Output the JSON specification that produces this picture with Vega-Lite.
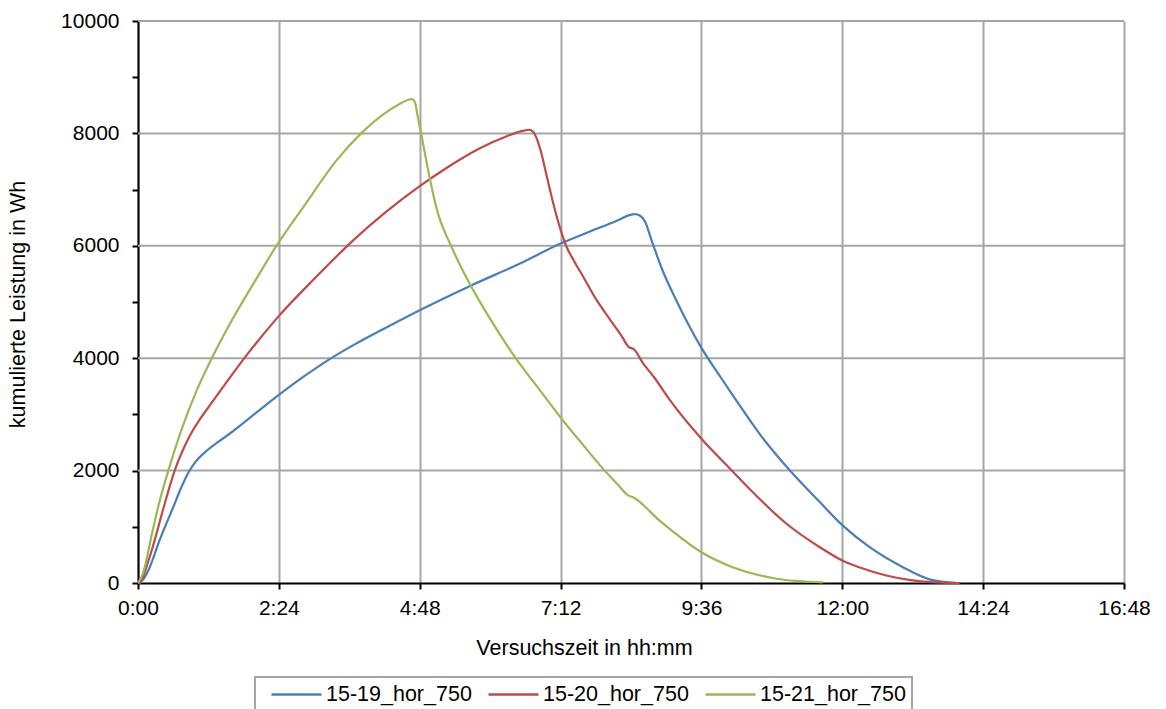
{
  "$schema": "https://vega.github.io/schema/vega-lite/v6.json",
  "width": 986,
  "height": 562,
  "autosize": "none",
  "padding": {"left": 138, "top": 21, "right": 42, "bottom": 126},
  "background": "white",
  "config": {
    "view": {"stroke": null},
    "font": "Liberation Sans",
    "axis": {"labelFont": "Liberation Sans", "titleFont": "Liberation Sans", "labelColor": "#000", "titleColor": "#000", "titleFontWeight": "normal"},
    "legend": {"strokeWidth": 2}
  },
  "datasets": {
    "grid": [
      {"g": 2000}, {"g": 4000}, {"g": 6000}, {"g": 8000}, {"g": 10000}
    ],
    "series": [
      {"s": "15-19_hor_750", "t": 0, "v": 0},
      {"s": "15-19_hor_750", "t": 2, "v": 10},
      {"s": "15-19_hor_750", "t": 6, "v": 80},
      {"s": "15-19_hor_750", "t": 12, "v": 281},
      {"s": "15-19_hor_750", "t": 22, "v": 757},
      {"s": "15-19_hor_750", "t": 36, "v": 1350},
      {"s": "15-19_hor_750", "t": 44, "v": 1690},
      {"s": "15-19_hor_750", "t": 51, "v": 1950},
      {"s": "15-19_hor_750", "t": 56, "v": 2090},
      {"s": "15-19_hor_750", "t": 62, "v": 2220},
      {"s": "15-19_hor_750", "t": 70, "v": 2350},
      {"s": "15-19_hor_750", "t": 82, "v": 2510},
      {"s": "15-19_hor_750", "t": 94, "v": 2660},
      {"s": "15-19_hor_750", "t": 118, "v": 2990},
      {"s": "15-19_hor_750", "t": 145, "v": 3360},
      {"s": "15-19_hor_750", "t": 170, "v": 3680},
      {"s": "15-19_hor_750", "t": 196, "v": 3984},
      {"s": "15-19_hor_750", "t": 222, "v": 4250},
      {"s": "15-19_hor_750", "t": 250, "v": 4510},
      {"s": "15-19_hor_750", "t": 290, "v": 4870},
      {"s": "15-19_hor_750", "t": 340, "v": 5290},
      {"s": "15-19_hor_750", "t": 390, "v": 5680},
      {"s": "15-19_hor_750", "t": 432, "v": 6040},
      {"s": "15-19_hor_750", "t": 462, "v": 6254},
      {"s": "15-19_hor_750", "t": 490, "v": 6450},
      {"s": "15-19_hor_750", "t": 502, "v": 6545},
      {"s": "15-19_hor_750", "t": 508, "v": 6565},
      {"s": "15-19_hor_750", "t": 513, "v": 6540},
      {"s": "15-19_hor_750", "t": 518, "v": 6440},
      {"s": "15-19_hor_750", "t": 526, "v": 6048},
      {"s": "15-19_hor_750", "t": 536, "v": 5574},
      {"s": "15-19_hor_750", "t": 550, "v": 5041},
      {"s": "15-19_hor_750", "t": 563, "v": 4590},
      {"s": "15-19_hor_750", "t": 576, "v": 4184},
      {"s": "15-19_hor_750", "t": 596, "v": 3652},
      {"s": "15-19_hor_750", "t": 610, "v": 3290},
      {"s": "15-19_hor_750", "t": 636, "v": 2640},
      {"s": "15-19_hor_750", "t": 666, "v": 2010},
      {"s": "15-19_hor_750", "t": 697, "v": 1440},
      {"s": "15-19_hor_750", "t": 720, "v": 1030},
      {"s": "15-19_hor_750", "t": 748, "v": 637},
      {"s": "15-19_hor_750", "t": 782, "v": 281},
      {"s": "15-19_hor_750", "t": 810, "v": 60},
      {"s": "15-19_hor_750", "t": 837, "v": 0},

      {"s": "15-20_hor_750", "t": 0, "v": 0},
      {"s": "15-20_hor_750", "t": 2, "v": 15},
      {"s": "15-20_hor_750", "t": 5, "v": 103},
      {"s": "15-20_hor_750", "t": 10, "v": 360},
      {"s": "15-20_hor_750", "t": 15, "v": 637},
      {"s": "15-20_hor_750", "t": 26, "v": 1330},
      {"s": "15-20_hor_750", "t": 37.5, "v": 2000},
      {"s": "15-20_hor_750", "t": 45, "v": 2330},
      {"s": "15-20_hor_750", "t": 53, "v": 2620},
      {"s": "15-20_hor_750", "t": 62, "v": 2880},
      {"s": "15-20_hor_750", "t": 73, "v": 3150},
      {"s": "15-20_hor_750", "t": 90, "v": 3560},
      {"s": "15-20_hor_750", "t": 107, "v": 3960},
      {"s": "15-20_hor_750", "t": 143, "v": 4731},
      {"s": "15-20_hor_750", "t": 182, "v": 5443},
      {"s": "15-20_hor_750", "t": 220, "v": 6097},
      {"s": "15-20_hor_750", "t": 252, "v": 6580},
      {"s": "15-20_hor_750", "t": 288, "v": 7060},
      {"s": "15-20_hor_750", "t": 315, "v": 7380},
      {"s": "15-20_hor_750", "t": 350, "v": 7740},
      {"s": "15-20_hor_750", "t": 377, "v": 7950},
      {"s": "15-20_hor_750", "t": 392, "v": 8040},
      {"s": "15-20_hor_750", "t": 400, "v": 8065},
      {"s": "15-20_hor_750", "t": 404, "v": 8030},
      {"s": "15-20_hor_750", "t": 411, "v": 7734},
      {"s": "15-20_hor_750", "t": 418, "v": 7230},
      {"s": "15-20_hor_750", "t": 424.5, "v": 6758},
      {"s": "15-20_hor_750", "t": 431, "v": 6343},
      {"s": "15-20_hor_750", "t": 438, "v": 5988},
      {"s": "15-20_hor_750", "t": 445, "v": 5752},
      {"s": "15-20_hor_750", "t": 455, "v": 5455},
      {"s": "15-20_hor_750", "t": 468.6, "v": 5041},
      {"s": "15-20_hor_750", "t": 482, "v": 4700},
      {"s": "15-20_hor_750", "t": 495, "v": 4380},
      {"s": "15-20_hor_750", "t": 501, "v": 4210},
      {"s": "15-20_hor_750", "t": 507.5, "v": 4150},
      {"s": "15-20_hor_750", "t": 516, "v": 3918},
      {"s": "15-20_hor_750", "t": 528, "v": 3652},
      {"s": "15-20_hor_750", "t": 544, "v": 3249},
      {"s": "15-20_hor_750", "t": 576, "v": 2567},
      {"s": "15-20_hor_750", "t": 607, "v": 2003},
      {"s": "15-20_hor_750", "t": 626, "v": 1660},
      {"s": "15-20_hor_750", "t": 663, "v": 1054},
      {"s": "15-20_hor_750", "t": 697, "v": 637},
      {"s": "15-20_hor_750", "t": 720, "v": 400},
      {"s": "15-20_hor_750", "t": 738, "v": 275},
      {"s": "15-20_hor_750", "t": 765, "v": 133},
      {"s": "15-20_hor_750", "t": 790, "v": 50},
      {"s": "15-20_hor_750", "t": 810, "v": 14},
      {"s": "15-20_hor_750", "t": 840, "v": 0},

      {"s": "15-21_hor_750", "t": 0, "v": 0},
      {"s": "15-21_hor_750", "t": 5, "v": 164},
      {"s": "15-21_hor_750", "t": 15, "v": 935},
      {"s": "15-21_hor_750", "t": 22, "v": 1450},
      {"s": "15-21_hor_750", "t": 31, "v": 2000},
      {"s": "15-21_hor_750", "t": 43, "v": 2656},
      {"s": "15-21_hor_750", "t": 60, "v": 3427},
      {"s": "15-21_hor_750", "t": 75, "v": 3984},
      {"s": "15-21_hor_750", "t": 94, "v": 4614},
      {"s": "15-21_hor_750", "t": 118, "v": 5326},
      {"s": "15-21_hor_750", "t": 143, "v": 6038},
      {"s": "15-21_hor_750", "t": 169, "v": 6690},
      {"s": "15-21_hor_750", "t": 203, "v": 7520},
      {"s": "15-21_hor_750", "t": 228, "v": 8000},
      {"s": "15-21_hor_750", "t": 254, "v": 8380},
      {"s": "15-21_hor_750", "t": 266, "v": 8510},
      {"s": "15-21_hor_750", "t": 276, "v": 8595},
      {"s": "15-21_hor_750", "t": 280, "v": 8610},
      {"s": "15-21_hor_750", "t": 283, "v": 8560},
      {"s": "15-21_hor_750", "t": 286, "v": 8300},
      {"s": "15-21_hor_750", "t": 290, "v": 7950},
      {"s": "15-21_hor_750", "t": 296, "v": 7400},
      {"s": "15-21_hor_750", "t": 302, "v": 6900},
      {"s": "15-21_hor_750", "t": 308, "v": 6500},
      {"s": "15-21_hor_750", "t": 314, "v": 6230},
      {"s": "15-21_hor_750", "t": 320, "v": 6000},
      {"s": "15-21_hor_750", "t": 328, "v": 5700},
      {"s": "15-21_hor_750", "t": 339, "v": 5330},
      {"s": "15-21_hor_750", "t": 363, "v": 4614},
      {"s": "15-21_hor_750", "t": 387, "v": 3978},
      {"s": "15-21_hor_750", "t": 411, "v": 3427},
      {"s": "15-21_hor_750", "t": 433, "v": 2923},
      {"s": "15-21_hor_750", "t": 453, "v": 2500},
      {"s": "15-21_hor_750", "t": 473, "v": 2080},
      {"s": "15-21_hor_750", "t": 490, "v": 1760},
      {"s": "15-21_hor_750", "t": 501, "v": 1560},
      {"s": "15-21_hor_750", "t": 506, "v": 1527},
      {"s": "15-21_hor_750", "t": 533, "v": 1113},
      {"s": "15-21_hor_750", "t": 576, "v": 548},
      {"s": "15-21_hor_750", "t": 608, "v": 281},
      {"s": "15-21_hor_750", "t": 653, "v": 75},
      {"s": "15-21_hor_750", "t": 700, "v": 10}
    ]
  },
  "layer": [
    {
      "data": {"name": "grid"},
      "mark": {"type": "rule", "color": "#a6a6a6", "strokeWidth": 2},
      "encoding": {
        "y": {
          "field": "g",
          "type": "quantitative",
          "scale": {"domain": [0, 10000], "nice": false},
          "axis": {
            "values": [0, 1000, 2000, 3000, 4000, 5000, 6000, 7000, 8000, 9000, 10000],
            "labelExpr": "datum.value % 2000 == 0 ? datum.label : ''",
            "format": "d",
            "labelFontSize": 21,
            "labelPadding": 13,
            "labelOverlap": false,
            "tickSize": 6,
            "tickWidth": 2,
            "tickColor": "#000",
            "domainColor": "#000",
            "domainWidth": 2,
            "grid": false,
            "title": "kumulierte Leistung in Wh",
            "titleFontSize": 21.5,
            "titleAngle": -90,
            "titleX": -120,
            "titleY": 283,
            "titleAlign": "center",
            "titleBaseline": "middle"
          }
        }
      }
    },
    {
      "data": {"name": "series"},
      "mark": {"type": "line", "strokeWidth": 2.2, "interpolate": "monotone"},
      "encoding": {
        "x": {
          "field": "t",
          "type": "quantitative",
          "scale": {"domain": [0, 1008], "nice": false, "zero": false},
          "axis": {
            "values": [0, 144, 288, 432, 576, 720, 864, 1008],
            "labelExpr": "floor(datum.value/60) + ':' + (datum.value % 60 < 10 ? '0' : '') + (datum.value % 60)",
            "labelFontSize": 21,
            "labelPadding": 8,
            "labelOverlap": false,
            "labelFlush": false,
            "tickSize": 6,
            "tickWidth": 2,
            "tickColor": "#000",
            "domainColor": "#000",
            "domainWidth": 2,
            "grid": true,
            "gridColor": "#a6a6a6",
            "gridWidth": 2,
            "title": "Versuchszeit in hh:mm",
            "titleFontSize": 21.5,
            "titleX": 446,
            "titleY": 65,
            "titleAlign": "center",
            "titleBaseline": "middle"
          }
        },
        "y": {
          "field": "v",
          "type": "quantitative",
          "scale": {"domain": [0, 10000], "nice": false},
          "axis": {
            "values": [0, 1000, 2000, 3000, 4000, 5000, 6000, 7000, 8000, 9000, 10000],
            "labelExpr": "datum.value % 2000 == 0 ? datum.label : ''",
            "format": "d",
            "labelFontSize": 21,
            "labelPadding": 13,
            "labelOverlap": false,
            "tickSize": 6,
            "tickWidth": 2,
            "tickColor": "#000",
            "domainColor": "#000",
            "domainWidth": 2,
            "grid": false,
            "title": "kumulierte Leistung in Wh",
            "titleFontSize": 21.5,
            "titleAngle": -90,
            "titleX": -120,
            "titleY": 283,
            "titleAlign": "center",
            "titleBaseline": "middle"
          }
        },
        "color": {
          "field": "s",
          "type": "nominal",
          "scale": {"domain": ["15-19_hor_750", "15-20_hor_750", "15-21_hor_750"], "range": ["#4a7ebb", "#be4b48", "#98b954"]},
          "legend": {
            "title": null,
            "orient": "none",
            "direction": "horizontal",
            "legendX": 117,
            "legendY": 656,
            "padding": 6,
            "strokeColor": "#a6a6a6",
            "fillColor": "white",
            "symbolType": "M-2.5,0H2.5",
            "symbolSize": 400,
            "symbolStrokeWidth": 2.5,
            "symbolOffset": 24,
            "labelFont": "Liberation Sans",
            "labelFontSize": 21.5,
            "labelColor": "#000",
            "labelOffset": 18,
            "columnPadding": 6,
            "labelLimit": 300
          }
        }
      }
    }
  ]
}
